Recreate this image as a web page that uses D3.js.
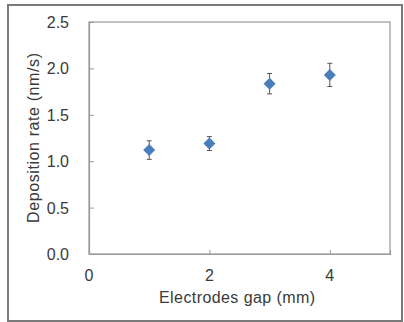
<!DOCTYPE html>
<html>
<head>
<meta charset="utf-8">
<script src="https://cdn.jsdelivr.net/npm/d3@7"></script>
<style>
  body { margin: 0; background: #fff; }
  text { font-family: "Liberation Sans", Arial, sans-serif; fill: #3a3a3a; }
</style>
</head>
<body>
<div class="box"></div>
<script>
const gaps = [1, 2, 3, 4];
const rates = [1.12, 1.19, 1.835, 1.93];
const errors = [0.10, 0.075, 0.11, 0.125];
const xTicks = [0, 2, 4];
const yTicks = [0, 0.5, 1, 1.5, 2, 2.5];

const dims = {width: 404, height: 322};
const plot = {left: 89, top: 22, right: 390, bottom: 254};

const svg = d3.select('.box')
              .append('svg')
              .attr('width', dims.width)
              .attr('height', dims.height);

// cadre extérieur
svg.append('rect')
   .attr('x', 8).attr('y', 5)
   .attr('width', 394).attr('height', 316)
   .attr('fill', 'none')
   .attr('stroke', '#7a7a7a')
   .attr('stroke-width', 2);

const x = d3.scaleLinear().domain([0, 5]).range([plot.left, plot.right]);
const y = d3.scaleLinear().domain([0, 2.5]).range([plot.bottom, plot.top]);

// boîte du graphique
svg.append('rect')
   .attr('x', plot.left).attr('y', plot.top)
   .attr('width', plot.right - plot.left).attr('height', plot.bottom - plot.top)
   .attr('fill', 'none')
   .attr('stroke', '#9a9a9a')
   .attr('stroke-width', 1.2);

const xAxis = svg.append('g')
                 .attr('transform', `translate(0, ${plot.bottom})`)
                 .call(d3.axisTop(x).tickValues(xTicks).tickSize(4).tickFormat(''));
const yAxis = svg.append('g')
                 .attr('transform', `translate(${plot.left}, 0)`)
                 .call(d3.axisRight(y).tickValues(yTicks).tickSize(5).tickFormat(''));
[xAxis, yAxis].forEach(a => {
    a.select('.domain').attr('stroke', '#9a9a9a').attr('stroke-width', 1.2);
    a.selectAll('.tick line').attr('stroke', '#9a9a9a');
});

// labels des graduations
svg.selectAll('.xlab')
   .data(xTicks)
   .enter().append('text')
   .attr('x', d => x(d))
   .attr('y', 281)
   .attr('text-anchor', 'middle')
   .style('font-size', '16px')
   .text(d => d);

svg.selectAll('.ylab')
   .data(yTicks)
   .enter().append('text')
   .attr('x', 69)
   .attr('y', d => y(d) + 6)
   .attr('text-anchor', 'end')
   .style('font-size', '16px')
   .text(d => d.toFixed(1));

svg.append('text')
   .attr('x', 237).attr('y', 303)
   .attr('text-anchor', 'middle')
   .style('font-size', '16px')
   .attr('textLength', 156)
   .text('Electrodes gap (mm)');

svg.append('text')
   .attr('transform', `translate(39, 138) rotate(-90)`)
   .attr('text-anchor', 'middle')
   .style('font-size', '16px')
   .attr('textLength', 170)
   .text('Deposition rate (nm/s)');

// barres d'erreur
const pts = gaps.map((g, i) => ({g, r: rates[i], e: errors[i]}));
const eb = svg.selectAll('.err').data(pts).enter().append('g')
              .attr('stroke', '#555').attr('stroke-width', 1);
eb.append('line')
  .attr('x1', d => x(d.g)).attr('x2', d => x(d.g))
  .attr('y1', d => y(d.r + d.e)).attr('y2', d => y(d.r - d.e));
eb.append('line')
  .attr('x1', d => x(d.g) - 2.5).attr('x2', d => x(d.g) + 2.5)
  .attr('y1', d => y(d.r + d.e)).attr('y2', d => y(d.r + d.e));
eb.append('line')
  .attr('x1', d => x(d.g) - 2.5).attr('x2', d => x(d.g) + 2.5)
  .attr('y1', d => y(d.r - d.e)).attr('y2', d => y(d.r - d.e));

// losanges
svg.selectAll('.pt').data(pts).enter().append('path')
   .attr('d', d3.symbol().type(d3.symbolDiamond2).size(92))
   .attr('transform', d => `translate(${x(d.g)}, ${y(d.r)})`)
   .attr('fill', '#4a7ebb');
</script>
</body>
</html>
